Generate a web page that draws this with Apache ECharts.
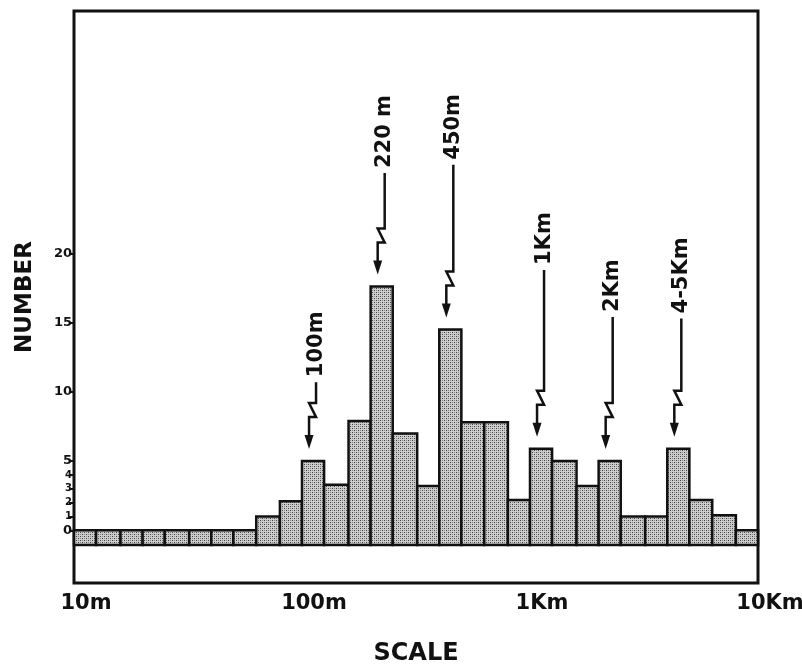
<!DOCTYPE html>
<html>
<head>
<meta charset="utf-8">
<title>Number vs scale</title>
<script src="https://cdn.jsdelivr.net/npm/echarts@6/dist/echarts.min.js"></script>
<style>
  html, body { margin: 0; padding: 0; background: #fff; }
  #chart { width: 802px; height: 665px; }
</style>
</head>
<body>
<div id="chart"></div>
<script>
// bin edges in metres (0.1 decade steps, 10m .. 10Km)
var binEdges = [10, 12.5, 16, 20, 25, 32, 40, 50, 63, 80,
                100, 125, 160, 200, 250, 320, 400, 500, 630, 800,
                1000, 1250, 1600, 2000, 2500, 3200, 4000, 5000, 6300, 8000, 10000];
// count in each bin
var counts = [0, 0, 0, 0, 0, 0, 0, 0, 1, 2.1,
              5, 3.3, 7.9, 17.6, 7, 3.2, 14.5, 7.8, 7.8, 2.2,
              5.9, 5, 3.2, 5, 1, 1, 5.9, 2.2, 1.1, 0];

// x axis tick labels
var xTickValues = [10, 100, 1000, 10000];
var xTickLabels = ['10m', '100m', '1Km', '10Km'];
// y axis ticks
var yTickValues = [0, 1, 2, 3, 4, 5, 10, 15, 20];

// arrow annotations: label, bin index it points at, top of the leader line (in count units)
var annoLabels = ['100m', '220 m', '450m', '1Km', '2Km', '4-5Km'];
var annoBins = [10, 13, 16, 20, 23, 26];
var annoTops = [10.7, 25.8, 26.4, 18.8, 15.4, 15.3];

var BAR_BASE = -1.05;

// stippled fill like the printed figure
var dots = document.createElement('canvas');
dots.width = 4; dots.height = 4;
var ctx = dots.getContext('2d');
ctx.fillStyle = '#cdcdcd';
ctx.fillRect(0, 0, 4, 4);
ctx.fillStyle = '#404040';
ctx.fillRect(0, 0, 1, 1);
ctx.fillRect(2, 2, 1, 1);
ctx.fillStyle = '#8a8a8a';
ctx.fillRect(2, 0, 1, 1);
ctx.fillRect(0, 2, 1, 1);
var stipple = { image: dots, repeat: 'repeat' };

var barData = [];
for (var i = 0; i < counts.length; i++) {
  barData.push([binEdges[i], binEdges[i + 1], counts[i]]);
}
var annoData = [];
for (var k = 0; k < annoLabels.length; k++) {
  var b = annoBins[k];
  annoData.push([Math.sqrt(binEdges[b] * binEdges[b + 1]), counts[b], annoTops[k], annoLabels[k]]);
}

var FONT = '"DejaVu Sans", sans-serif';
var myChart = echarts.init(document.getElementById('chart'), null, { renderer: 'canvas' });

var option = {
  animation: false,
  grid: {
    left: 74, right: 44, top: 11, bottom: 82,
    outerBoundsMode: 'none',
    containLabel: false,
    show: true, borderColor: '#111', borderWidth: 3, backgroundColor: 'transparent'
  },
  xAxis: {
    type: 'log',
    logBase: 10,
    min: 10,
    max: 10000,
    splitNumber: 3,
    name: 'SCALE',
    nameLocation: 'middle',
    nameGap: 59,
    nameTextStyle: { fontFamily: FONT, fontWeight: 'bold', fontSize: 24, color: '#111' },
    axisLine: { show: false },
    axisTick: { show: true, inside: true, length: 38, lineStyle: { color: '#111', width: 2 } },
    axisLabel: {
      margin: 10,
      padding: [0, 0, 0, 24],
      fontFamily: FONT, fontWeight: 'bold', fontSize: 21, color: '#111',
      formatter: function (v) {
        var idx = xTickValues.indexOf(Math.round(v));
        return idx >= 0 ? xTickLabels[idx] : '';
      }
    },
    splitLine: { show: false }
  },
  yAxis: {
    type: 'value',
    min: -3.8,
    max: 37.5,
    name: 'NUMBER',
    nameLocation: 'middle',
    nameRotate: 90,
    nameGap: 37,
    nameTextStyle: { fontFamily: FONT, fontWeight: 'bold', fontSize: 23, color: '#111' },
    axisLine: { show: false },
    axisTick: { show: true, length: 5, customValues: yTickValues, lineStyle: { color: '#111', width: 2 } },
    axisLabel: {
      margin: 2,
      customValues: yTickValues,
      formatter: function (v) {
        if (v >= 1 && v <= 4) return '{s|' + v + '}';
        return '{b|' + v + '}';
      },
      rich: {
        b: { fontFamily: FONT, fontWeight: 'bold', fontSize: 13, color: '#111' },
        s: { fontFamily: FONT, fontWeight: 'bold', fontSize: 10, color: '#111', lineHeight: 11 }
      }
    },
    splitLine: { show: false }
  },
  series: [
    {
      name: 'bars',
      type: 'custom',
      data: barData,
      encode: { x: [0, 1], y: 2 },
      renderItem: function (params, api) {
        var p0 = api.coord([api.value(0), api.value(2)]);
        var p1 = api.coord([api.value(1), BAR_BASE]);
        return {
          type: 'rect',
          shape: { x: p0[0], y: p0[1], width: p1[0] - p0[0], height: p1[1] - p0[1] },
          style: { fill: stipple, stroke: '#111', lineWidth: 2.5 }
        };
      },
      z: 3
    },
    {
      name: 'arrows',
      type: 'custom',
      data: annoData,
      encode: { x: 0, y: 1 },
      renderItem: function (params, api) {
        var c = api.coord([api.value(0), api.value(1)]);
        var t = api.coord([api.value(0), api.value(2)]);
        var lx = c[0] + 3, ax = c[0] - 4;
        var tip = c[1] - 12;
        var zy = tip - 38;
        var top = t[1];
        return {
          type: 'group',
          children: [
            {
              type: 'polyline',
              shape: { points: [[lx, top], [lx, zy - 8], [ax, zy - 8], [lx, zy + 6], [ax, zy + 6], [ax, tip - 12]] },
              style: { stroke: '#111', lineWidth: 2.5, fill: null, lineJoin: 'miter' }
            },
            {
              type: 'polygon',
              shape: { points: [[ax - 4.5, tip - 14], [ax + 4.5, tip - 14], [ax, tip]] },
              style: { fill: '#111' }
            },
            {
              type: 'text',
              x: lx,
              y: top - 5,
              rotation: Math.PI / 2,
              style: {
                text: api.value(3),
                fill: '#111',
                font: 'bold 21px ' + FONT,
                align: 'left',
                verticalAlign: 'middle'
              }
            }
          ]
        };
      },
      z: 4
    }
  ]
};

myChart.setOption(option);
</script>
</body>
</html>
